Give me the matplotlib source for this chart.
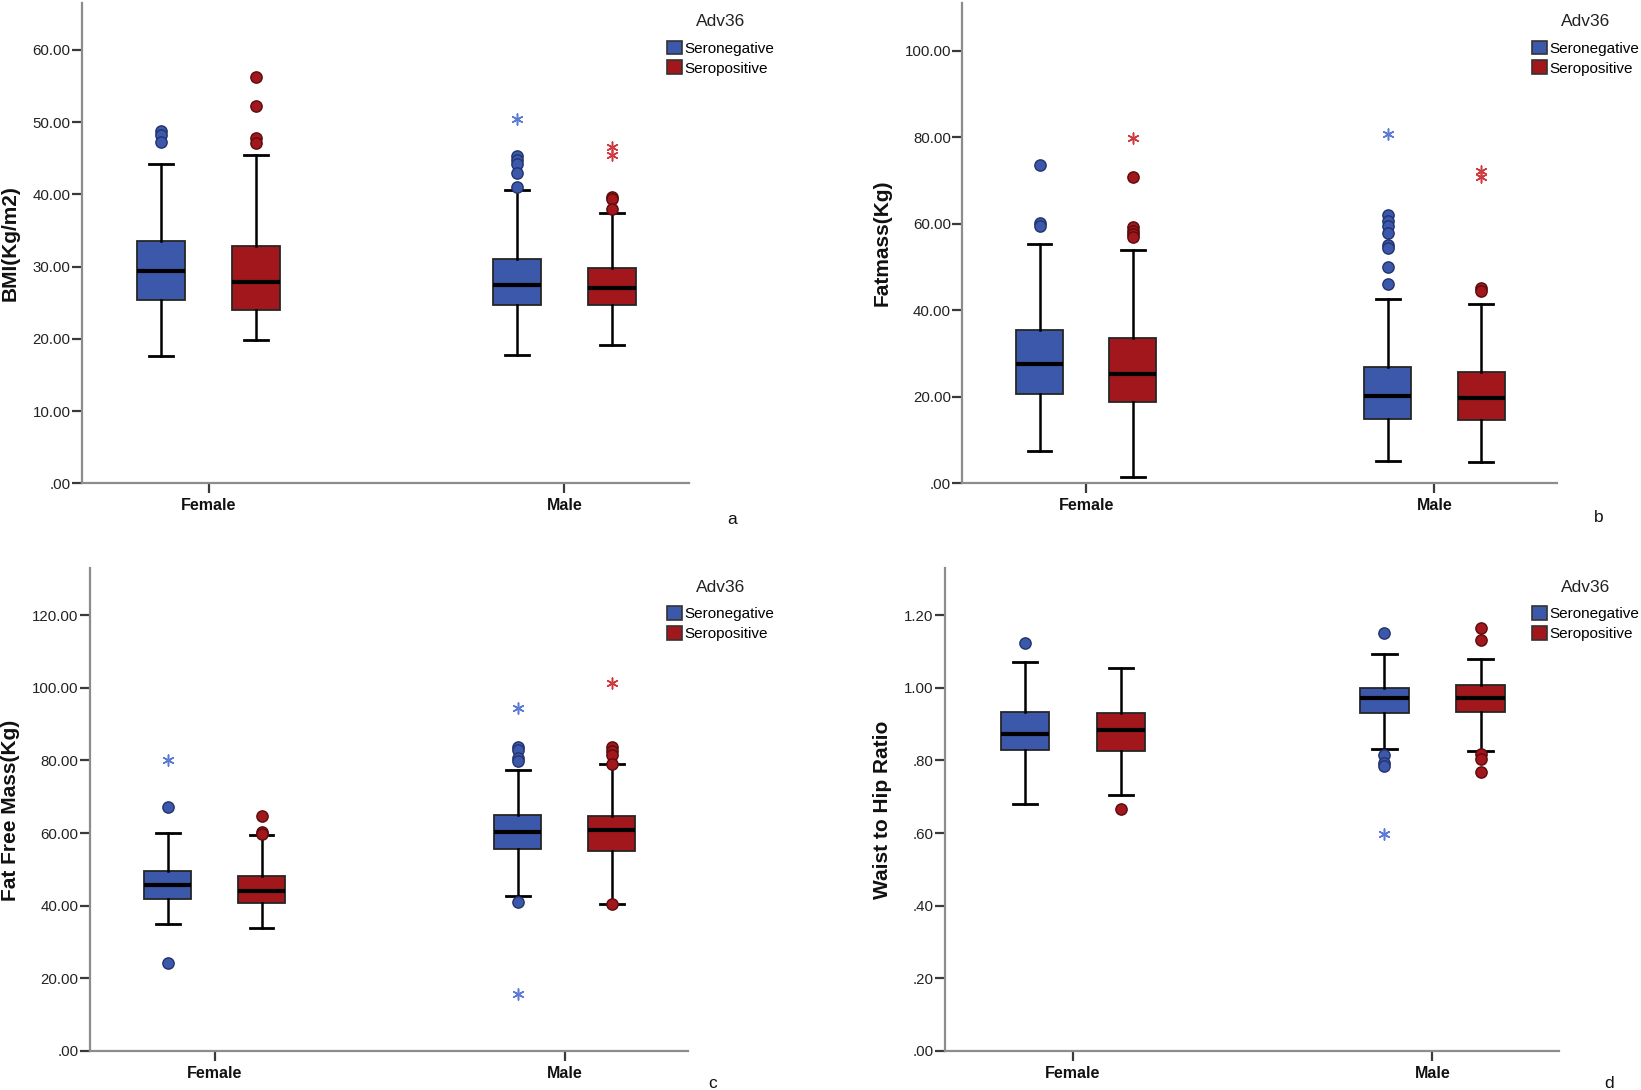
import matplotlib
matplotlib.use("Agg")
import matplotlib.pyplot as plt
from matplotlib.patches import Patch

plt.rcParams['font.family'] = ['Liberation Sans', 'DejaVu Sans']

# ---------------- data ----------------
groups = ["Female", "Male"]
series = ["Seronegative", "Seropositive"]
legend_title = "Adv36"
panel_tags = ["a", "b", "c", "d"]

# order of boxes: Female-Seronegative, Female-Seropositive, Male-Seronegative, Male-Seropositive
bmi_q1 = [25.4, 24.0, 24.7, 24.7]
bmi_med = [29.4, 27.9, 27.4, 27.1]
bmi_q3 = [33.6, 32.8, 31.0, 29.8]
bmi_lo = [17.6, 19.8, 17.8, 19.2]
bmi_hi = [44.2, 45.5, 40.6, 37.4]
bmi_out = [[48.8, 48.2, 47.2], [56.2, 52.3, 47.8, 47.1],
           [45.3, 44.8, 44.2, 42.9, 41.0], [39.7, 39.3, 38.0]]
bmi_ext = [[], [], [50.4], [46.5, 45.4]]
bmi_yticks = [0, 10, 20, 30, 40, 50, 60]
bmi_ymax = 66.5

fm_q1 = [20.6, 18.7, 14.8, 14.6]
fm_med = [27.5, 25.3, 20.1, 19.6]
fm_q3 = [35.4, 33.5, 26.8, 25.8]
fm_lo = [7.4, 1.5, 5.1, 5.0]
fm_hi = [55.2, 54.0, 42.6, 41.4]
fm_out = [[73.5, 60.1, 59.5], [70.9, 59.2, 58.4, 57.7, 56.9],
          [61.9, 60.7, 59.4, 57.8, 55.0, 54.4, 50.0, 46.1], [45.2, 44.5]]
fm_ext = [[], [79.8], [80.8], [72.1, 70.7]]
fm_yticks = [0, 20, 40, 60, 80, 100]
fm_ymax = 111

ffm_q1 = [41.9, 40.7, 55.7, 55.0]
ffm_med = [45.6, 44.0, 60.4, 60.9]
ffm_q3 = [49.7, 48.3, 65.1, 64.6]
ffm_lo = [34.9, 33.8, 42.7, 40.6]
ffm_hi = [59.9, 59.6, 77.5, 79.0]
ffm_out = [[67.2, 24.2], [64.6, 60.4, 59.8],
           [83.8, 82.8, 80.7, 79.9, 41.1], [83.8, 82.6, 81.5, 79.0, 40.4]]
ffm_ext = [[80.2], [], [94.5, 15.7], [101.4]]
ffm_yticks = [0, 20, 40, 60, 80, 100, 120]
ffm_ymax = 133

whr_q1 = [0.830, 0.825, 0.930, 0.934]
whr_med = [0.873, 0.884, 0.971, 0.971]
whr_q3 = [0.934, 0.930, 1.000, 1.009]
whr_lo = [0.680, 0.704, 0.832, 0.826]
whr_hi = [1.071, 1.054, 1.094, 1.079]
whr_out = [[1.124], [0.666], [1.150, 0.816, 0.792, 0.786],
           [1.166, 1.133, 0.818, 0.803, 0.768]]
whr_ext = [[], [], [0.597], []]
whr_yticks = [0, 0.2, 0.4, 0.6, 0.8, 1.0, 1.2]
whr_ymax = 1.33

ylabels = ["BMI(Kg/m2)", "Fatmass(Kg)", "Fat Free Mass(Kg)", "Waist to Hip Ratio"]

panels = [
    (bmi_q1, bmi_med, bmi_q3, bmi_lo, bmi_hi, bmi_out, bmi_ext, bmi_yticks, bmi_ymax),
    (fm_q1, fm_med, fm_q3, fm_lo, fm_hi, fm_out, fm_ext, fm_yticks, fm_ymax),
    (ffm_q1, ffm_med, ffm_q3, ffm_lo, ffm_hi, ffm_out, ffm_ext, ffm_yticks, ffm_ymax),
    (whr_q1, whr_med, whr_q3, whr_lo, whr_hi, whr_out, whr_ext, whr_yticks, whr_ymax),
]

# ---------------- style / layout ----------------
W, H = 1641, 1090
fill = ["#3C58AA", "#A2171B"]
dark = ["#23346C", "#5A0C0E"]
star = ["#5A7AD4", "#CF3A40"]

# axes rectangles in pixels: left, top, right, bottom
rects = [(81.7, 3, 689.5, 483.3), (962, 3, 1557, 483.3),
         (89.7, 568, 688, 1051), (944.6, 568, 1559, 1051)]
ylabel_xy = [(10.5, 243), (882, 243), (10.5, 810), (882, 810)]
tag_xy = [(732, 519), (1599, 517), (713, 1084), (1609, 1084)]
legend_xy = [(667, 40.5), (1532, 40.5), (667, 606), (1532, 606)]
title_xy = [(721, 21), (1585.5, 21), (721, 587), (1585.5, 587)]

offset = 0.134
positions = [g + s * offset for g in range(len(groups)) for s in (-1, 1)]


def fmt(v):
    s = f"{v:.2f}"
    if s.startswith("0."):
        s = s[1:]
    return s


fig = plt.figure(figsize=(W / 100, H / 100), dpi=100)

for k, (q1, med, q3, lo, hi, out, ext, yticks, ymax) in enumerate(panels):
    l, t, r, b = rects[k]
    ax = fig.add_axes([l / W, 1 - b / H, (r - l) / W, (b - t) / H])
    stats = [dict(q1=q1[i], med=med[i], q3=q3[i], whislo=lo[i], whishi=hi[i], fliers=[])
             for i in range(len(q1))]
    bp = ax.bxp(stats, positions=positions, widths=0.135, capwidths=0.068,
                patch_artist=True, showfliers=False, manage_ticks=False,
                boxprops=dict(edgecolor="#262626", linewidth=1.3),
                medianprops=dict(color="black", linewidth=3.0, solid_capstyle="butt"),
                whiskerprops=dict(color="black", linewidth=1.8),
                capprops=dict(color="black", linewidth=2.0))
    for i, patch in enumerate(bp["boxes"]):
        patch.set_facecolor(fill[i % 2])
    for i in range(len(q1)):
        if out[i]:
            ax.scatter([positions[i]] * len(out[i]), out[i], s=66, marker="o",
                       facecolor=fill[i % 2], edgecolor=dark[i % 2], linewidth=1.0, zorder=5)
        if ext[i]:
            ax.scatter([positions[i]] * len(ext[i]), ext[i], s=64, marker=(6, 2, 0),
                       color=star[i % 2], linewidth=1.1, zorder=5)

    ax.set_xlim(-0.357, 1.352)
    ax.set_ylim(0, ymax)
    ax.set_xticks(range(len(groups)))
    ax.set_xticklabels(groups, fontweight="bold", fontsize=11.5)
    ax.set_yticks(yticks)
    ax.set_yticklabels([fmt(v) for v in yticks], fontsize=10.8)
    for sp in ["top", "right"]:
        ax.spines[sp].set_visible(False)
    for sp in ["left", "bottom"]:
        ax.spines[sp].set_color("#8c8c8c")
        ax.spines[sp].set_linewidth(1.6)
    ax.tick_params(axis="both", direction="out", length=7.5, width=1.6, color="#3a3a3a")
    ax.tick_params(axis="y", pad=0.5, labelcolor="#222222")
    ax.tick_params(axis="x", pad=3, labelcolor="#111111")

    fig.text(ylabel_xy[k][0] / W, 1 - ylabel_xy[k][1] / H, ylabels[k], rotation=90,
             ha="center", va="center", fontsize=15, fontweight="bold", color="#111111")
    fig.text(tag_xy[k][0] / W, 1 - tag_xy[k][1] / H, panel_tags[k],
             ha="center", va="center", fontsize=12.5, color="#111111")

    handles = [Patch(facecolor=fill[j], edgecolor="#333333", linewidth=1.2) for j in range(2)]
    fig.legend(handles, series, loc="upper left",
               bbox_to_anchor=(legend_xy[k][0] / W, 1 - legend_xy[k][1] / H),
               bbox_transform=fig.transFigure, frameon=False, fontsize=11,
               borderpad=0, borderaxespad=0, handlelength=1.0, handleheight=1.0,
               handletextpad=0.15, labelspacing=0.32)
    fig.text(title_xy[k][0] / W, 1 - title_xy[k][1] / H, legend_title,
             ha="center", va="center", fontsize=12.5, color="#222222")

fig.savefig("out.png", dpi=100, facecolor="white")
